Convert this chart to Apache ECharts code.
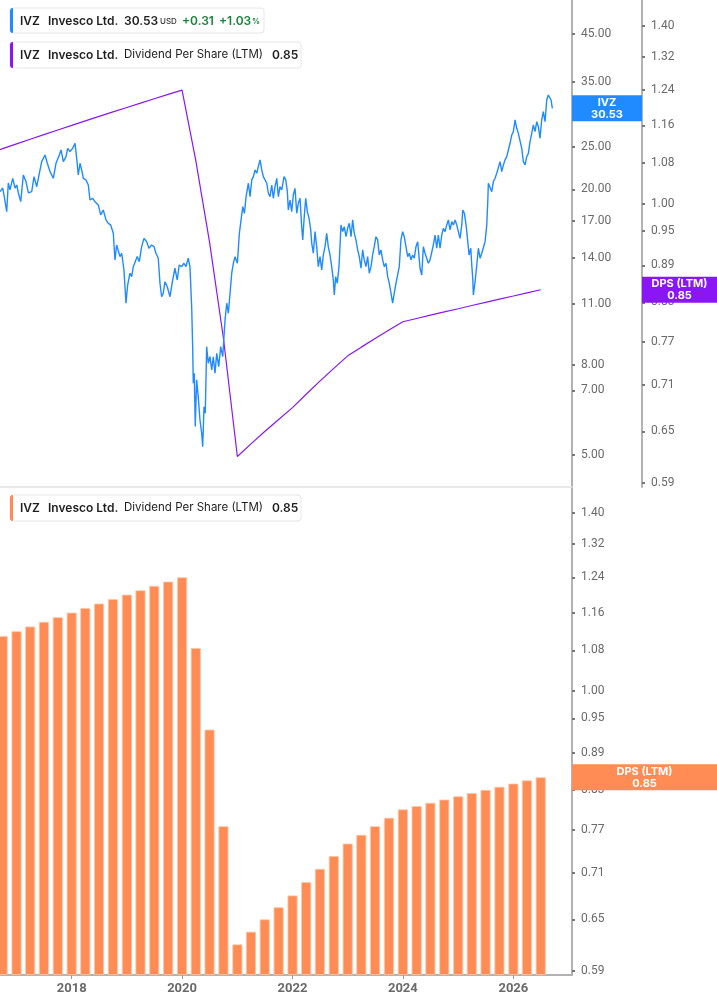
<!DOCTYPE html>
<html>
<head>
<meta charset="utf-8">
<script src="https://cdn.jsdelivr.net/npm/echarts@6/dist/echarts.min.js"></script>
<style>
  html, body { margin: 0; padding: 0; background: #fff; }
  #chart { width: 717px; height: 1005px; }
</style>
</head>
<body>
<div id="chart"></div>
<script>
// IVZ close price, dates as decimal years
const priceDates = [
  2016.701, 2016.750, 2016.773, 2016.822, 2016.851, 2016.882, 2016.931, 2016.973, 2017.004, 2017.033,
  2017.076, 2017.123, 2017.172, 2017.214, 2017.275, 2017.317, 2017.366, 2017.413, 2017.456, 2017.516,
  2017.558, 2017.607, 2017.667, 2017.715, 2017.775, 2017.806, 2017.848, 2017.897, 2017.927, 2017.969,
  2018.018, 2018.060, 2018.090, 2018.119, 2018.150, 2018.181, 2018.210, 2018.259, 2018.301, 2018.331,
  2018.380, 2018.422, 2018.482, 2018.525, 2018.572, 2018.621, 2018.663, 2018.706, 2018.754, 2018.784,
  2018.815, 2018.844, 2018.875, 2018.906, 2018.947, 2018.984, 2019.014, 2019.056, 2019.087, 2019.116,
  2019.147, 2019.188, 2019.225, 2019.268, 2019.310, 2019.359, 2019.400, 2019.449, 2019.491, 2019.527,
  2019.569, 2019.600, 2019.630, 2019.659, 2019.690, 2019.732, 2019.781, 2019.830, 2019.871, 2019.913,
  2019.949, 2019.993, 2020.034, 2020.071, 2020.112, 2020.143, 2020.174, 2020.192, 2020.203, 2020.221,
  2020.239, 2020.264, 2020.293, 2020.324, 2020.355, 2020.373, 2020.397, 2020.420, 2020.445, 2020.474,
  2020.505, 2020.536, 2020.565, 2020.596, 2020.627, 2020.663, 2020.699, 2020.735, 2020.777, 2020.808,
  2020.837, 2020.868, 2020.898, 2020.928, 2020.958, 2021.000, 2021.036, 2021.067, 2021.098, 2021.127,
  2021.158, 2021.199, 2021.230, 2021.261, 2021.290, 2021.321, 2021.351, 2021.380, 2021.411, 2021.442,
  2021.471, 2021.502, 2021.533, 2021.562, 2021.592, 2021.623, 2021.652, 2021.683, 2021.714, 2021.743,
  2021.773, 2021.804, 2021.846, 2021.877, 2021.906, 2021.924, 2021.955, 2021.985, 2022.014, 2022.045,
  2022.076, 2022.105, 2022.136, 2022.166, 2022.185, 2022.208, 2022.239, 2022.268, 2022.299, 2022.330,
  2022.348, 2022.377, 2022.408, 2022.438, 2022.467, 2022.498, 2022.529, 2022.558, 2022.589, 2022.619,
  2022.648, 2022.679, 2022.710, 2022.739, 2022.757, 2022.782, 2022.811, 2022.842, 2022.866, 2022.878,
  2022.909, 2022.938, 2022.969, 2022.999, 2023.029, 2023.060, 2023.090, 2023.119, 2023.150, 2023.181,
  2023.210, 2023.241, 2023.271, 2023.300, 2023.331, 2023.362, 2023.391, 2023.422, 2023.452, 2023.481,
  2023.512, 2023.543, 2023.572, 2023.603, 2023.634, 2023.663, 2023.694, 2023.725, 2023.754, 2023.784,
  2023.815, 2023.844, 2023.875, 2023.906, 2023.935, 2023.965, 2023.996, 2024.025, 2024.056, 2024.087,
  2024.116, 2024.147, 2024.177, 2024.206, 2024.237, 2024.268, 2024.297, 2024.310, 2024.341, 2024.370,
  2024.400, 2024.431, 2024.460, 2024.491, 2024.522, 2024.551, 2024.582, 2024.612, 2024.641, 2024.672,
  2024.703, 2024.732, 2024.763, 2024.793, 2024.822, 2024.853, 2024.884, 2024.913, 2024.944, 2024.974,
  2025.003, 2025.034, 2025.065, 2025.083, 2025.112, 2025.143, 2025.174, 2025.197, 2025.228, 2025.246,
  2025.264, 2025.275, 2025.306, 2025.337, 2025.366, 2025.397, 2025.427, 2025.456, 2025.487, 2025.518,
  2025.536, 2025.547, 2025.578, 2025.608, 2025.637, 2025.668, 2025.699, 2025.728, 2025.759, 2025.790,
  2025.819, 2025.849, 2025.880, 2025.909, 2025.940, 2025.971, 2026.000, 2026.031, 2026.061, 2026.090,
  2026.121, 2026.152, 2026.181, 2026.212, 2026.242, 2026.272, 2026.302, 2026.333, 2026.362, 2026.393,
  2026.424, 2026.453, 2026.483, 2026.514, 2026.543, 2026.574, 2026.605, 2026.634, 2026.665, 2026.683,
  2026.707
];
const priceValues = [
  19.76, 20.14, 19.42, 17.80, 20.68, 19.94, 21.19, 20.14, 20.46, 19.63,
  18.76, 21.56, 20.82, 19.63, 19.76, 21.37, 20.28, 21.75, 23.11, 23.93,
  22.92, 21.94, 21.19, 22.92, 23.93, 24.57, 23.11, 23.72, 24.78, 24.35,
  24.78, 25.44, 23.52, 21.56, 22.92, 22.13, 21.19, 21.01, 20.46, 18.92,
  19.09, 18.76, 18.44, 17.50, 17.96, 17.05, 16.75, 16.61, 15.90, 13.84,
  14.96, 14.83, 14.08, 14.33, 13.13, 11.04, 12.14, 12.91, 12.68, 13.36,
  13.25, 14.08, 13.71, 14.83, 15.49, 15.22, 14.71, 14.96, 14.83, 14.33,
  13.96, 12.25, 11.42, 11.63, 12.35, 12.03, 11.42, 12.46, 13.25, 12.46,
  13.48, 13.36, 13.60, 13.36, 13.96, 13.36, 10.84, 8.80, 7.27, 7.66,
  5.80, 7.40, 6.78, 6.00, 5.60, 5.22, 6.43, 6.22, 8.80, 8.07,
  8.35, 7.79, 8.35, 7.66, 8.50, 7.93, 8.80, 8.35, 10.11, 11.04,
  10.48, 11.63, 12.91, 13.60, 14.08, 13.60, 15.90, 17.05, 18.27, 17.65,
  19.25, 20.65, 19.25, 21.01, 21.37, 22.13, 21.75, 22.52, 23.32, 22.13,
  21.37, 21.56, 20.65, 19.60, 19.25, 20.46, 19.09, 20.28, 21.19, 19.25,
  20.28, 19.94, 21.37, 21.01, 19.76, 17.96, 18.92, 17.80, 19.42, 20.11,
  17.65, 18.60, 19.09, 16.46, 15.36, 17.05, 19.09, 17.80, 17.20, 16.18,
  15.09, 14.33, 16.04, 14.83, 13.36, 14.08, 13.13, 14.20, 14.83, 15.90,
  14.83, 14.20, 13.36, 12.46, 11.52, 12.68, 12.25, 13.36, 15.36, 16.61,
  16.04, 16.46, 15.62, 16.32, 16.75, 15.62, 17.05, 15.90, 15.36, 14.58,
  14.08, 13.25, 14.58, 13.84, 13.36, 14.08, 12.91, 13.36, 14.20, 14.83,
  15.62, 15.36, 14.20, 14.58, 13.84, 13.36, 13.60, 12.68, 12.25, 11.63,
  11.04, 11.63, 12.25, 12.35, 13.36, 15.36, 16.04, 15.62, 14.83, 14.08,
  14.33, 13.84, 14.20, 13.96, 14.83, 15.22, 13.84, 13.25, 12.79, 14.83,
  14.33, 13.96, 13.60, 13.84, 13.71, 14.96, 15.76, 14.71, 15.76, 14.71,
  15.76, 16.32, 16.04, 16.61, 17.05, 16.18, 16.90, 16.61, 17.05, 16.61,
  16.04, 15.49, 16.61, 17.96, 17.65, 16.61, 15.22, 14.20, 14.71, 13.48,
  12.57, 11.52, 12.35, 13.48, 14.71, 13.96, 14.33, 14.20, 15.22, 16.61,
  18.76, 20.65, 20.46, 19.76, 20.82, 21.19, 21.75, 21.56, 23.11, 21.94,
  22.72, 23.32, 23.72, 23.52, 25.44, 26.56, 27.03, 28.73, 27.51, 26.80,
  26.56, 24.78, 23.11, 22.72, 23.72, 24.14, 25.65, 26.80, 27.99, 27.03,
  28.47, 27.74, 26.11, 28.73, 30.00, 28.47, 31.89, 32.73, 33.02, 31.89,
  30.53
];

// Dividend per share (LTM), quarterly
const dpsDates = [
  '2016-07-01', '2016-10-01',
  '2017-01-01', '2017-04-01', '2017-07-01', '2017-10-01',
  '2018-01-01', '2018-04-01', '2018-07-01', '2018-10-01',
  '2019-01-01', '2019-04-01', '2019-07-01', '2019-10-01',
  '2020-01-01', '2020-04-01', '2020-07-01', '2020-10-01',
  '2021-01-01', '2021-04-01', '2021-07-01', '2021-10-01',
  '2022-01-01', '2022-04-01', '2022-07-01', '2022-10-01',
  '2023-01-01', '2023-04-01', '2023-07-01', '2023-10-01',
  '2024-01-01', '2024-04-01', '2024-07-01', '2024-10-01',
  '2025-01-01', '2025-04-01', '2025-07-01', '2025-10-01',
  '2026-01-01', '2026-04-01', '2026-07-01'
];
const dpsValues = [
  1.10, 1.11,
  1.12, 1.13, 1.14, 1.15,
  1.16, 1.17, 1.18, 1.19,
  1.20, 1.21, 1.22, 1.23,
  1.24, 1.085, 0.93, 0.775,
  0.62, 0.635, 0.65, 0.665,
  0.68, 0.6975, 0.715, 0.7325,
  0.75, 0.7625, 0.775, 0.7875,
  0.80, 0.805, 0.81, 0.815,
  0.82, 0.825, 0.83, 0.835,
  0.84, 0.845, 0.85
];

const priceTicks = [45, 35, 25, 20, 17, 14, 11, 8, 7, 5];
const dpsTicks = [1.40, 1.32, 1.24, 1.16, 1.08, 1.00, 0.95, 0.89, 0.83, 0.77, 0.71, 0.65, 0.59];
const yearTicks = [2018, 2020, 2022, 2024, 2026];

// axis ranges (log scales)
const PRICE_LO = 4.23, PRICE_HI = 53.74;
const DPS_LO = 0.5852, DPS_HI = 1.4706;
const X_START = 2016.701, X_END = 2027.063;

const BLUE = '#1f8bff', PURPLE = '#8a16f5', ORANGE = '#ff8c55';
const AXIS_GRAY = '#b2b2b2', LABEL_GRAY = '#6a6a6a';

function yearToTime(y) {
  const Y = Math.floor(y);
  const a = Date.UTC(Y, 0, 1), b = Date.UTC(Y + 1, 0, 1);
  return a + (y - Y) * (b - a);
}
function dayToTime(s) {
  const p = s.split('-').map(Number);
  return Date.UTC(p[0], p[1] - 1, p[2]);
}
// log position above the axis bottom
function lp(v, lo) { return Math.log(v / lo); }

function logAxis(gridIndex, lo, hi, ticks, offset) {
  const vals = ticks.map(t => lp(t, lo));
  return {
    type: 'value',
    gridIndex: gridIndex,
    position: 'right',
    offset: offset,
    min: 0,
    max: Math.log(hi / lo),
    splitLine: { show: false },
    axisLine: { show: true, onZero: false, lineStyle: { color: AXIS_GRAY, width: 2 } },
    axisTick: { show: true, length: 3, customValues: vals, lineStyle: { color: '#777', width: 2 } },
    axisLabel: {
      customValues: vals,
      margin: 9,
      color: LABEL_GRAY,
      fontSize: 12,
      fontFamily: 'Roboto',
      formatter: v => (lo * Math.exp(v)).toFixed(2)
    }
  };
}

const xMin = yearToTime(X_START), xMax = yearToTime(X_END);
const yearTimes = yearTicks.map(y => Date.UTC(y, 0, 1));

const chart = echarts.init(document.getElementById('chart'));

chart.setOption({
  animation: false,
  backgroundColor: '#fff',
  grid: [
    { left: 0, right: 145, top: 0, height: 487 },
    { left: 0, right: 145, top: 487, height: 488 }
  ],
  xAxis: [
    {
      type: 'value', gridIndex: 0, min: xMin, max: xMax,
      axisLine: { show: true, onZero: false, lineStyle: { color: '#e2e2e2', width: 1.5 } },
      axisTick: { show: false }, axisLabel: { show: false }, splitLine: { show: false }
    },
    {
      type: 'value', gridIndex: 1, min: xMin, max: xMax,
      axisLine: { show: true, onZero: false, lineStyle: { color: AXIS_GRAY, width: 2 } },
      axisTick: { show: true, length: 4, customValues: yearTimes, lineStyle: { color: '#999' } },
      axisLabel: {
        customValues: yearTimes,
        margin: 7,
        color: LABEL_GRAY,
        fontSize: 13,
        fontWeight: 'bold',
        fontFamily: 'Roboto',
        formatter: v => String(new Date(v).getUTCFullYear())
      },
      splitLine: { show: false }
    }
  ],
  yAxis: [
    logAxis(0, PRICE_LO, PRICE_HI, priceTicks, 0),
    logAxis(0, DPS_LO, DPS_HI, dpsTicks, 70),
    logAxis(1, DPS_LO, DPS_HI, dpsTicks, 0)
  ],
  series: [
    {
      name: 'IVZ',
      type: 'line',
      xAxisIndex: 0, yAxisIndex: 0,
      showSymbol: false,
      lineStyle: { color: BLUE, width: 1.4 },
      data: priceDates.map((d, i) => [yearToTime(d), lp(priceValues[i], PRICE_LO)]),
      z: 3
    },
    {
      name: 'DPS (LTM)',
      type: 'line',
      xAxisIndex: 0, yAxisIndex: 1,
      showSymbol: false,
      lineStyle: { color: PURPLE, width: 1.2 },
      data: dpsDates.map((d, i) => [dayToTime(d), lp(dpsValues[i], DPS_LO)]),
      z: 2
    },
    {
      name: 'DPS bars',
      type: 'bar',
      xAxisIndex: 1, yAxisIndex: 2,
      barWidth: 10,
      itemStyle: { color: ORANGE, borderColor: '#ffc6a6', borderWidth: 0.8 },
      data: dpsDates.map((d, i) => [dayToTime(d), lp(dpsValues[i], DPS_LO)])
    }
  ]
});

// legend boxes and last-value badges
const lastPrice = priceValues[priceValues.length - 1];
const lastDps = dpsValues[dpsValues.length - 1];
const yPrice = chart.convertToPixel({ yAxisIndex: 0 }, lp(lastPrice, PRICE_LO));
const yDpsTop = chart.convertToPixel({ yAxisIndex: 1 }, lp(lastDps, DPS_LO));
const yDpsBot = chart.convertToPixel({ yAxisIndex: 2 }, lp(lastDps, DPS_LO));

const FONT = 'Inter, "Noto Sans", sans-serif';
function txt(x, y, s, opt) {
  opt = opt || {};
  return {
    type: 'text', z: 100,
    style: {
      x: x, y: y, text: s,
      fill: opt.fill || '#1e1e1e',
      font: (opt.weight || 600) + ' ' + (opt.size || 12) + 'px ' + FONT,
      align: opt.align || 'left', verticalAlign: 'middle',
      textAlign: opt.align || 'left', textVerticalAlign: 'middle'
    }
  };
}
function box(x, y, w, h, color) {
  return [
    { type: 'rect', z: 99, shape: { x: x, y: y, width: w, height: h, r: 3 },
      style: { fill: '#fff', stroke: '#e6e6e6', lineWidth: 1 } },
    { type: 'rect', z: 100, shape: { x: x, y: y, width: 3, height: h, r: [3, 0, 0, 3] },
      style: { fill: color } }
  ];
}
function badge(x, yc, w, color, l1, l2) {
  return [
    { type: 'rect', shape: { x: x, y: yc - 13, width: w, height: 26 }, style: { fill: color } },
    txt(x + w / 2, yc - 6, l1, { fill: '#fff', size: 11, weight: 700, align: 'center' }),
    txt(x + w / 2, yc + 6, l2, { fill: '#fff', size: 11, weight: 700, align: 'center' })
  ].map(e => Object.assign(e, { z: 101 }));
}

const GREEN = '#17853a';
const elements = [].concat(
  box(10, 8, 254, 25, BLUE),
  [
    txt(20, 21, 'IVZ'),
    txt(48, 21, 'Invesco Ltd.'),
    txt(124, 21, lastPrice.toFixed(2)),
    txt(160, 22, 'USD', { size: 8, weight: 500, fill: '#333' }),
    txt(182, 21, '+0.31', { fill: GREEN }),
    txt(219, 21, '+1.03', { fill: GREEN }),
    txt(252, 22, '%', { fill: GREEN, size: 8 })
  ],
  box(10, 42, 291, 26, PURPLE),
  [
    txt(20, 55, 'IVZ'),
    txt(48, 55, 'Invesco Ltd.'),
    txt(124, 55, 'Dividend Per Share (LTM)', { weight: 400, size: 11.5 }),
    txt(272, 55, lastDps.toFixed(2))
  ],
  box(10, 495, 291, 26, ORANGE),
  [
    txt(20, 508, 'IVZ'),
    txt(48, 508, 'Invesco Ltd.'),
    txt(124, 508, 'Dividend Per Share (LTM)', { weight: 400, size: 11.5 }),
    txt(272, 508, lastDps.toFixed(2))
  ],
  badge(572, yPrice, 70, BLUE, 'IVZ', lastPrice.toFixed(2)),
  badge(642, yDpsTop, 75, PURPLE, 'DPS (LTM)', lastDps.toFixed(2)),
  badge(572, yDpsBot, 145, ORANGE, 'DPS (LTM)', lastDps.toFixed(2))
);

chart.setOption({ graphic: { elements: elements } });
</script>
</body>
</html>
